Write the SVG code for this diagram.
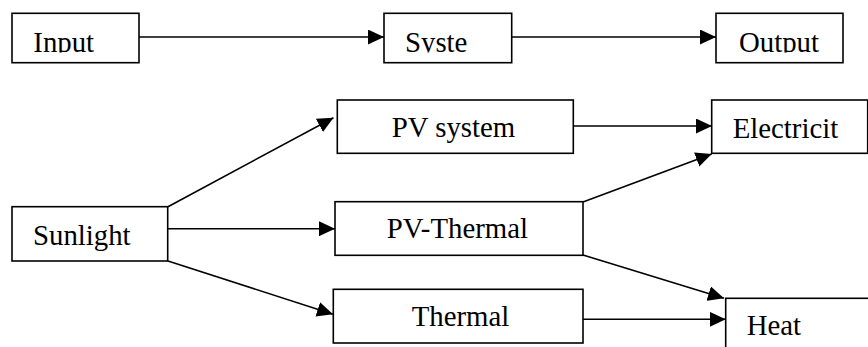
<svg xmlns="http://www.w3.org/2000/svg" width="868" height="347" viewBox="0 0 868 347">
<style>
.box{fill:#fff;stroke:#000;stroke-width:1.6}
.lbl{font-family:"Liberation Serif","Times New Roman",serif;font-size:28.8px;fill:#000}
.con line{stroke:#000;stroke-width:1.6}
</style>
<defs>
<marker id="ah" markerUnits="userSpaceOnUse" markerWidth="16" markerHeight="15" refX="16" refY="7.5" orient="auto">
<path d="M0,0 L16,7.5 L0,15 z" fill="#000"/>
</marker>
<clipPath id="topclip"><rect x="0" y="0" width="868" height="52.5"/></clipPath>
</defs>
<rect width="868" height="347" fill="#fff"/>
<g class="con">
<line x1="139" y1="37" x2="384" y2="37" marker-end="url(#ah)"/>
<line x1="512" y1="37" x2="716" y2="37" marker-end="url(#ah)"/>
<line x1="168" y1="206.7" x2="333.5" y2="117.7" marker-end="url(#ah)"/>
<line x1="168" y1="228.7" x2="335" y2="228.7" marker-end="url(#ah)"/>
<line x1="168" y1="261" x2="333" y2="314.3" marker-end="url(#ah)"/>
<line x1="573.3" y1="126" x2="712" y2="126" marker-end="url(#ah)"/>
<line x1="583" y1="202" x2="711.7" y2="154" marker-end="url(#ah)"/>
<line x1="583" y1="255" x2="724" y2="298.3" marker-end="url(#ah)"/>
<line x1="583" y1="319.3" x2="725.7" y2="319.3" marker-end="url(#ah)"/>
</g>
<g id="input">
<rect class="box" x="12" y="13.3" width="127" height="49.4"/>
<text class="lbl" x="33.3" y="52" clip-path="url(#topclip)">Input</text>
</g>
<g id="system">
<rect class="box" x="384" y="13.3" width="127.7" height="49.4"/>
<text class="lbl" x="405" y="52" clip-path="url(#topclip)">Syste</text>
</g>
<g id="output">
<rect class="box" x="716" y="13.3" width="127" height="49.4"/>
<text class="lbl" x="739" y="52" clip-path="url(#topclip)">Output</text>
</g>
<g id="sunlight">
<rect class="box" x="12" y="206.7" width="155.7" height="54.3"/>
<text class="lbl" x="33" y="245">Sunlight</text>
</g>
<g id="pv-system">
<rect class="box" x="337.3" y="100" width="236" height="53.3"/>
<text class="lbl" x="391.7" y="137">PV system</text>
</g>
<g id="pv-thermal">
<rect class="box" x="335" y="201.7" width="248" height="53.6"/>
<text class="lbl" x="386.7" y="238.3">PV-Thermal</text>
</g>
<g id="thermal">
<rect class="box" x="333.3" y="289.3" width="249.7" height="53.7"/>
<text class="lbl" x="411.7" y="326">Thermal</text>
</g>
<g id="electricity">
<rect class="box" x="711.7" y="100" width="156" height="53.3"/>
<text class="lbl" x="732.7" y="138.3">Electricit</text>
</g>
<g id="heat">
<rect class="box" x="725.7" y="298.3" width="150" height="60"/>
<text class="lbl" x="746.7" y="335">Heat</text>
</g>
</svg>
